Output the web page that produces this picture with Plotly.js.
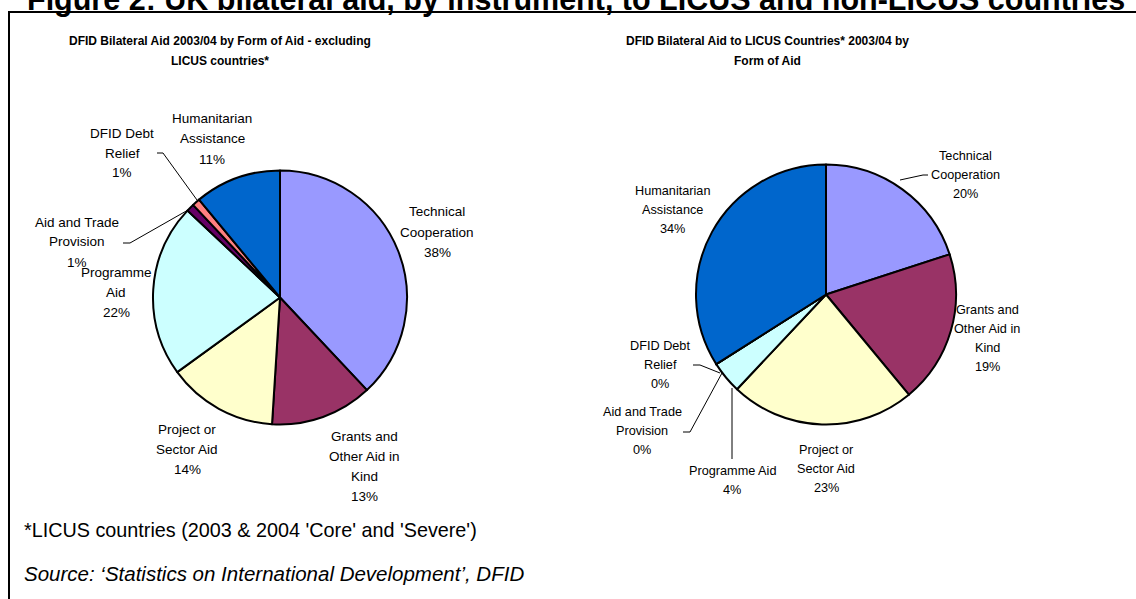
<!DOCTYPE html>
<html>
<head>
<meta charset="utf-8">
<script src="https://cdn.plot.ly/plotly-3.0.1.min.js"></script>
<style>html,body{margin:0;padding:0;background:#fff;}#chart{width:1136px;height:599px;}</style>
</head>
<body>
<div id="chart"></div>
<script>
// ---- data ----
const figureTitle = "Figure 2: UK bilateral aid, by instrument, to LICUS and non-LICUS countries";
const leftTitle = "DFID Bilateral Aid 2003/04 by Form of Aid - excluding<br>LICUS countries*";
const rightTitle = "DFID Bilateral Aid to LICUS Countries* 2003/04 by<br>Form of Aid";
const categories = ["Technical Cooperation", "Grants and Other Aid in Kind", "Project or Sector Aid",
  "Programme Aid", "Aid and Trade Provision", "DFID Debt Relief", "Humanitarian Assistance"];
const leftLabels = ["Technical<br>Cooperation", "Grants and<br>Other Aid in<br>Kind", "Project or<br>Sector Aid",
  "Programme<br>Aid", "Aid and Trade<br>Provision", "DFID Debt<br>Relief", "Humanitarian<br>Assistance"];
const rightLabels = ["Technical<br>Cooperation", "Grants and<br>Other Aid in<br>Kind", "Project or<br>Sector Aid",
  "Programme Aid", "Aid and Trade<br>Provision", "DFID Debt<br>Relief", "Humanitarian<br>Assistance"];
const leftValues = [38, 13, 14, 22, 1, 1, 11];
const rightValues = [20, 19, 23, 4, 0, 0, 34];
const sliceColors = ["#9999FF", "#993366", "#FFFFCC", "#CCFFFF", "#660066", "#FF8080", "#0066CC"];
const footnote = "*LICUS countries (2003 & 2004 'Core' and 'Severe')";
const sourceText = "Source: \u2018Statistics on International Development\u2019, DFID";

// ---- layout helpers ----
const W = 1136, H = 599;
const X = px => px / W;
const Y = py => 1 - py / H;
const FONT = "Liberation Sans, Arial, sans-serif";

function pieDomain(cx, cy, r) {
  return { x: [X(cx - r), X(cx + r)], y: [Y(cy + r), Y(cy - r)] };
}

const traces = [
  {
    type: "pie", labels: categories, values: leftValues, sort: false, direction: "clockwise",
    rotation: 0, textinfo: "none", hoverinfo: "label+percent",
    marker: { colors: sliceColors, line: { color: "#000", width: 2 } },
    domain: pieDomain(280, 297.5, 127), showlegend: false
  },
  {
    type: "pie", labels: categories, values: rightValues, sort: false, direction: "clockwise",
    rotation: 0, textinfo: "none", hoverinfo: "label+percent",
    marker: { colors: sliceColors, line: { color: "#000", width: 2 } },
    domain: pieDomain(826, 294.5, 130), showlegend: false
  }
];

const annotations = [];
function txt(text, x, y, size, opts) {
  annotations.push(Object.assign({
    text: text, xref: "paper", yref: "paper", x: X(x), y: Y(y),
    xanchor: "center", yanchor: "middle", showarrow: false,
    font: { family: FONT, size: size, color: "#000" }
  }, opts || {}));
}
function multi(text, x, y0, size, gap, opts) {
  text.split("<br>").forEach((ln, j) => txt(ln, x, y0 + j * gap, size, opts));
}

// pie labels: one annotation per line; positions are layout (centre x, first line y)
const leftPos = [[437, 212], [364, 436], [187, 429], [116, 272], [77, 222], [122, 133], [212, 119]];
const rightPos = [[965, 156], [987, 310], [826, 450], [732, 471], [642, 412], [660, 346], [672, 191]];
function addLabels(labels, values, pos, size, gap) {
  labels.forEach((lab, i) => multi(lab + "<br>" + values[i] + "%", pos[i][0], pos[i][1], size, gap));
}
addLabels(leftLabels, leftValues, leftPos, 13.5, 20);
addLabels(rightLabels, rightValues, rightPos, 12.7, 19);

// titles
const bold = s => ({ font: { family: FONT, size: s, color: "#000", weight: "bold" } });
txt(figureTitle, 25, -1, 30.5, Object.assign({ xanchor: "left" }, bold(30.5)));
multi(leftTitle, 220, 41, 12, 20, bold(12));
multi(rightTitle, 767, 41, 12, 20, bold(12));
txt(footnote, 22, 530, 19.8, { xanchor: "left" });
txt(sourceText, 22, 573, 20.5, { xanchor: "left", font: { family: FONT, size: 20.5, color: "#000", style: "italic" } });

// frame + leader lines
function path(pts) {
  return pts.map((p, i) => (i ? "L" : "M") + X(p[0]) + "," + Y(p[1])).join(" ");
}
const leader = pts => ({ type: "path", xref: "paper", yref: "paper", path: path(pts), line: { color: "#000", width: 1 } });
const shapes = [
  { type: "rect", xref: "paper", yref: "paper", x0: X(9), x1: X(1140), y0: Y(12), y1: Y(610),
    line: { color: "#000", width: 2 }, fillcolor: "rgba(0,0,0,0)" },
  leader([[157, 153], [163, 153], [197, 200]]),
  leader([[123, 243], [130, 243], [188, 210]]),
  leader([[928, 175], [923, 175], [900, 180]]),
  leader([[693, 365], [700, 365], [720, 373]]),
  leader([[683, 432], [690, 432], [722, 373]]),
  leader([[732, 459], [732, 388]])
];

Plotly.newPlot("chart", traces, {
  width: W, height: H, margin: { l: 0, r: 0, t: 0, b: 0 },
  paper_bgcolor: "#fff", plot_bgcolor: "#fff",
  annotations: annotations, shapes: shapes,
  font: { family: FONT }
}, { displayModeBar: false, staticPlot: true });
</script>
</body>
</html>
